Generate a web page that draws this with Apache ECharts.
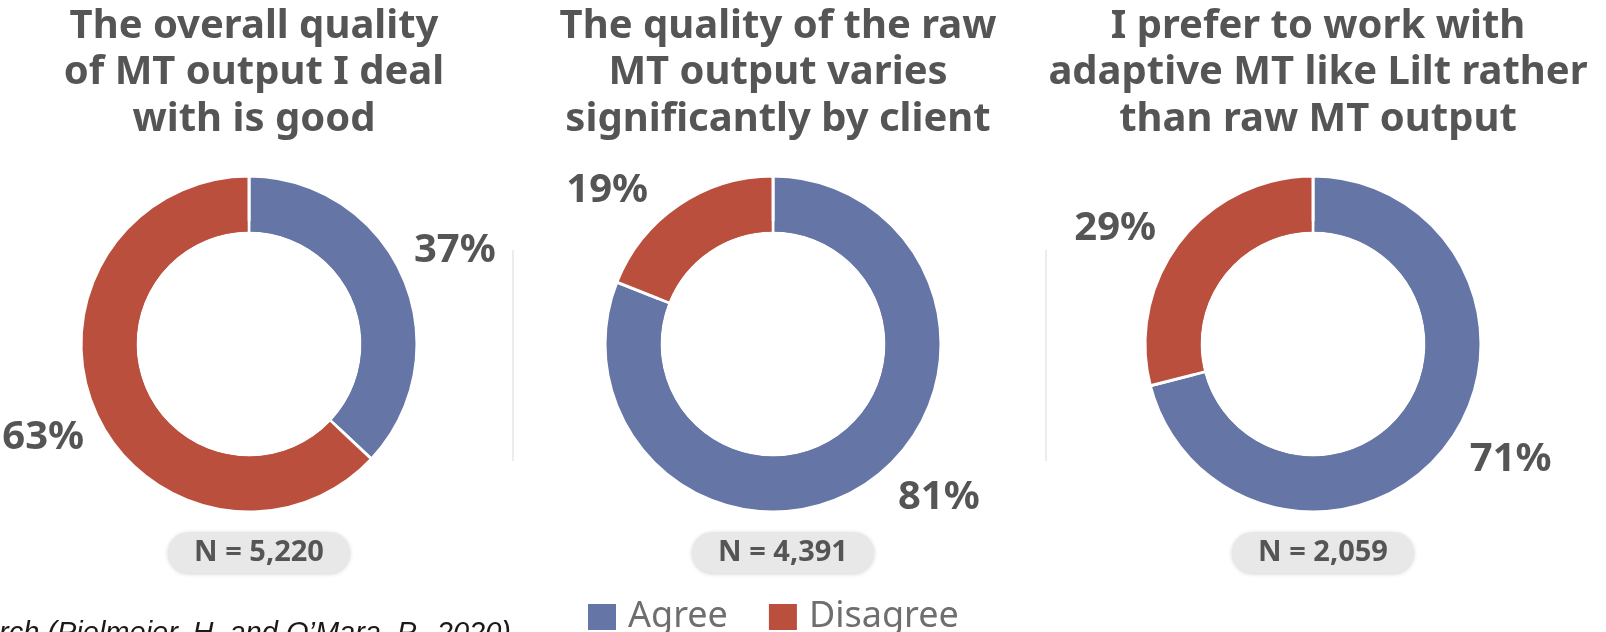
<!DOCTYPE html>
<html>
<head>
<meta charset="utf-8">
<script src="https://cdn.jsdelivr.net/npm/echarts@6/dist/echarts.min.js"></script>
<style>
html,body{margin:0;padding:0;background:#fff;}
#c{width:1606px;height:632px;}
</style>
</head>
<body>
<div id="c"></div>
<script>
// ---- data ----
const titles = [
  "The overall quality\nof MT output I deal\nwith is good",
  "The quality of the raw\nMT output varies\nsignificantly by client",
  "I prefer to work with\nadaptive MT like Lilt rather\nthan raw MT output"
];
const categories = ["Agree", "Disagree"];
const agreeValues = [37, 81, 71];
const disagreeValues = [63, 19, 29];
const nLabels = ["N = 5,220", "N = 4,391", "N = 2,059"];
const sourceText = "rch (Pielmeier, H. and O\u2019Mara, P., 2020)";

// ---- layout / style ----
const centersX = [249, 773, 1313];
const centerY = 344;
const labelStartAngles = [91, 103, 97.5];
const labelRadius = [223, 223, 226];
const colors = ["#6475a6", "#bb4f3d"];
const darkColors = ["#56669a", "#a9432f"];
const textDark = "#555555";
const FONT = "Noto Sans";

const chart = echarts.init(document.getElementById('c'), null, {renderer: 'canvas'});

const series = [];
const titleOpts = [];
const graphics = [];

centersX.forEach((cx, i) => {
  const data = [
    {name: categories[0], value: agreeValues[i]},
    {name: categories[1], value: disagreeValues[i]}
  ];
  titleOpts.push({
    text: titles[i],
    left: cx, top: -2, textAlign: 'center',
    textStyle: {fontFamily: FONT, fontWeight: 'bold', fontSize: 40, lineHeight: 46.5, color: textDark}
  });
  series.push({
    type: 'pie', silent: true, center: [cx, centerY], radius: [111, 168],
    startAngle: 90, clockwise: true, label: {show: false}, labelLine: {show: false},
    itemStyle: {borderColor: '#fff', borderWidth: 3},
    color: colors, data: data, animation: false
  });
  series.push({
    type: 'pie', silent: true, center: [cx, centerY], radius: [112.5, 123],
    startAngle: 90, clockwise: true, label: {show: false}, labelLine: {show: false},
    legendHoverLink: false, padAngle: 1.5,
    itemStyle: {borderWidth: 0, opacity: 0.9},
    color: darkColors, data: data, animation: false
  });
  series.push({
    type: 'pie', silent: true, center: [cx, centerY],
    radius: [labelRadius[i] - 20, labelRadius[i] + 20],
    startAngle: labelStartAngles[i], clockwise: true,
    itemStyle: {color: 'rgba(0,0,0,0)'},
    label: {show: true, position: 'inside', formatter: '{c}%',
      fontFamily: FONT, fontWeight: 'bold', fontSize: 40, color: textDark},
    labelLine: {show: false},
    data: data, animation: false
  });
  // N box
  graphics.push({
    type: 'group', left: cx + 10 - 91, top: 532,
    children: [
      {type: 'rect', shape: {x: 0, y: 0, width: 182, height: 41, r: 20.5},
       style: {fill: '#e8e8e8', shadowBlur: 4, shadowColor: 'rgba(0,0,0,0.18)', shadowOffsetY: 1}},
      {type: 'text', x: 91, y: 21,
       style: {text: nLabels[i], fill: textDark, font: 'bold 29px "Noto Sans"', align: 'center', verticalAlign: 'middle'}}
    ]
  });
});

// separators
[513, 1046].forEach(x => {
  graphics.push({type: 'line', shape: {x1: x, y1: 250, x2: x, y2: 461},
    style: {stroke: '#ececec', lineWidth: 2}});
});
// source text
graphics.push({type: 'text', left: -1, top: 619,
  style: {text: sourceText, fill: '#1a1a1a', font: 'italic 29px "Liberation Sans", Arial, sans-serif'}});

chart.setOption({
  animation: false,
  backgroundColor: '#fff',
  title: titleOpts,
  legend: {
    left: 581, top: 594, itemWidth: 30, itemHeight: 28, itemGap: 39, icon: 'rect',
    data: [
      {name: categories[0], itemStyle: {color: colors[0]}},
      {name: categories[1], itemStyle: {color: colors[1]}}
    ],
    selectedMode: false,
    textStyle: {fontFamily: FONT, fontSize: 36, color: '#6e6e6e', padding: [0, 0, 0, 6]}
  },
  series: series,
  graphic: graphics
});
</script>
</body>
</html>
